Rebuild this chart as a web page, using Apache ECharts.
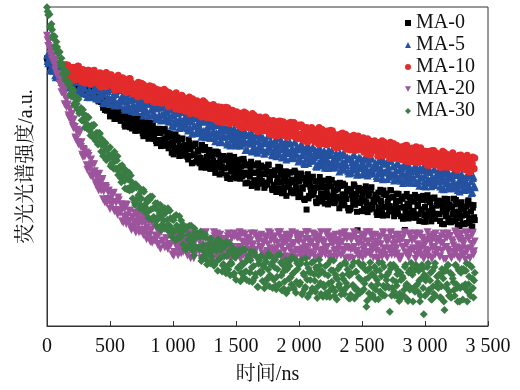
<!DOCTYPE html>
<html><head><meta charset="utf-8">
<script src="https://cdn.jsdelivr.net/npm/echarts@6/dist/echarts.min.js"></script>
<style>html,body{margin:0;padding:0;background:#fff}#c{width:520px;height:390px}</style>
</head><body><div id="c"></div>
<script>
// time channels (ns): two interleaved 10 ns sampling grids (0,10,... and 5,15,...)
const timesA = Array.from({length: 340}, (_, i) => i * 10);
const timesB = Array.from({length: 340}, (_, i) => i * 10 + 5);
const xTicks = [0, 500, 1000, 1500, 2000, 2500, 3000, 3500];
const seriesNames = ['MA-0', 'MA-5', 'MA-10', 'MA-20', 'MA-30'];

// intensity (a.u., 0-1000 scale)
const ma0 = [
839,823,837,821,808,821,806,819,796,800, 789,803,789,794,772,784,787,766,778,767,
778,761,764,750,766,750,766,750,742,751, 743,749,728,746,732,745,723,729,732,714,
731,704,717,702,720,698,677,702,681,695, 657,688,671,692,657,673,649,680,652,659,
652,661,625,668,635,649,623,665,633,655, 612,646,627,658,617,640,604,628,602,639,
624,589,626,605,636,586,608,573,618,583, 605,582,617,565,588,567,605,572,595,543,
575,550,601,553,581,533,554,585,534,565, 543,565,522,573,554,510,564,538,572,521,
548,510,527,568,509,551,496,530,510,552, 493,534,518,492,547,503,537,475,527,500,
533,494,527,464,497,534,484,505,466,514, 498,481,521,463,500,469,524,481,507,449,
505,468,515,446,481,456,503,434,485,468, 503,446,477,440,487,450,505,456,479,426,
443,488,420,465,431,497,450,474,418,464, 408,474,440,481,425,450,416,482,430,459,
454,411,473,430,399,457,365,476,408,436, 410,468,425,453,385,434,454,390,440,409,
456,404,424,381,443,392,458,407,385,426, 405,433,369,439,396,446,378,406,422,370,
425,369,411,385,439,397,358,424,386,427, 360,422,392,438,374,408,365,427,380,396,
387,403,348,418,368,392,354,425,373,411, 347,401,376,425,366,403,352,389,355,414,
392,344,399,373,301,351,384,337,404,357, 391,360,411,343,376,350,405,362,395,327,
373,343,410,350,388,328,358,399,336,377, 351,380,329,391,370,319,386,356,398,338,
372,329,350,399,332,381,318,359,338,388, 320,370,353,323,390,338,380,308,371,341];
const ma0b = [
832,833,813,829,811,814,799,816,797,804, 798,781,795,785,795,774,780,764,780,765,
762,773,751,762,751,768,752,757,739,750, 748,734,749,735,724,739,725,740,719,724,
711,732,709,718,684,702,706,675,691,675, 694,665,674,649,680,652,685,657,643,663,
662,631,664,646,673,629,648,619,658,628, 650,612,638,618,652,622,595,638,610,636,
587,624,604,637,593,618,580,605,578,618, 564,609,585,617,568,591,557,602,566,576,
538,589,560,591,547,565,537,588,546,567, 556,530,584,534,564,512,536,569,515,549,
529,553,497,557,519,561,502,525,538,493, 546,508,540,480,511,545,497,517,479,525,
495,519,473,529,509,461,521,493,530,475, 463,507,491,462,522,476,513,447,503,474,
477,492,439,506,457,480,443,510,461,496, 455,498,433,476,443,506,461,484,431,474,
473,430,450,499,431,480,416,457,435,485, 454,436,482,418,459,425,487,440,468,404,
420,478,435,463,395,444,464,400,450,419, 465,413,433,390,452,401,467,416,394,435,
384,438,412,461,401,438,387,423,389,447, 430,399,449,381,413,387,441,398,430,362,
366,428,399,444,380,414,300,433,386,402, 411,368,430,388,357,416,377,435,368,396,
412,356,398,372,427,384,346,412,373,415, 389,359,426,366,404,344,373,415,351,393,
371,399,336,406,364,414,347,375,392,340, 361,390,339,401,380,329,396,366,408,348,
327,393,360,401,346,370,337,403,352,381, 393,350,388,320,358,399,344,368,326,380,
325,375,358,328,395,343,385,313,376,346, 367,319,374,348,394,326,359,312,379,332];

const ma5 = [
849,824,846,803,818,800,822,780,805,791, 778,806,781,793,754,777,786,751,777,759,
789,751,765,732,778,739,788,750,733,762, 746,766,718,769,737,772,720,741,751,713,
752,710,740,720,759,727,698,747,717,747, 696,742,718,751,703,727,694,740,705,715,
708,719,678,729,690,708,679,731,692,719, 671,710,691,727,683,710,670,697,671,714,
697,661,701,680,713,661,685,649,698,662, 685,662,698,646,670,649,688,656,679,628,
660,636,685,640,667,621,641,671,622,652, 632,652,613,659,641,603,652,628,658,612,
636,604,619,654,603,640,592,622,605,641, 590,626,613,589,638,600,630,576,621,598,
625,593,620,569,596,626,584,601,569,609, 595,582,615,567,597,571,616,581,602,554,
600,571,607,553,580,560,597,543,582,569, 596,551,575,546,583,555,597,559,576,535,
550,583,532,565,539,589,554,572,530,563, 522,571,545,575,533,552,526,575,537,557,
553,521,567,535,512,555,526,568,517,538, 518,561,529,550,499,536,551,503,539,517,
550,512,526,495,541,502,551,513,497,527, 511,532,484,537,505,541,490,511,523,485,
525,483,514,495,535,503,474,524,495,526, 475,521,499,532,485,509,477,524,489,501,
494,505,464,517,478,496,467,519,482,509, 461,500,481,518,474,501,462,489,464,507,
490,455,496,476,510,459,483,449,498,464, 487,465,502,451,476,456,496,465,489,439,
472,449,499,455,483,438,459,490,442,473, 454,474,437,483,467,429,478,456,486,442,
466,434,450,486,436,473,426,456,441,477, 427,463,451,428,478,440,471,417,464,441];
const ma5b = [
831,835,801,833,802,811,786,820,788,804, 794,766,792,776,796,759,774,748,782,756,
751,784,733,765,739,788,753,771,729,761, 760,727,773,740,717,759,729,771,719,740,
719,762,730,750,699,735,750,702,737,715, 748,710,723,691,737,698,746,708,691,720,
719,684,724,703,736,685,709,674,722,687, 714,672,702,683,722,690,660,709,680,710,
659,697,678,713,669,695,656,682,656,698, 644,689,666,698,650,673,640,686,650,661,
625,673,647,676,634,651,624,673,634,654, 643,620,668,624,650,605,626,655,607,636,
620,641,593,644,612,648,597,618,628,590, 636,604,631,579,606,636,595,612,579,619,
593,613,575,621,604,566,614,591,621,576, 566,602,589,566,615,577,606,552,598,575,
577,588,547,599,560,578,549,601,563,590, 558,591,540,573,548,597,562,580,538,571,
570,538,553,589,539,576,528,558,542,578, 555,542,575,527,558,532,578,543,564,516,
527,570,538,559,508,544,559,511,547,525, 558,520,534,502,549,510,559,521,504,534,
496,535,517,553,509,536,497,525,499,542, 528,506,543,492,516,496,536,505,529,478,
480,527,504,538,490,514,483,529,495,506, 511,480,526,495,472,515,487,529,479,500,
512,470,501,482,521,489,460,510,481,511, 491,468,518,474,501,456,477,508,460,490,
474,496,448,501,469,505,455,476,488,450, 465,486,448,495,478,440,490,467,498,453,
437,487,461,492,450,468,443,492,455,475, 484,453,480,430,457,487,447,464,433,473,
431,468,455,433,482,445,475,422,468,446, 460,426,466,447,480,430,454,420,469,435];

const ma10 = [
null,null,null,null,null,null,null,null,null,null, null,null,null,818,787,819,794,779,808,793,
785,811,771,797,777,814,787,800,768,793, 762,799,779,802,770,783,763,801,771,787,
784,757,794,768,750,784,761,795,754,770, 755,788,763,779,738,768,780,741,770,751,
778,747,757,732,768,737,775,744,730,754, 740,756,718,759,732,761,720,737,745,714,
745,712,736,719,750,725,701,740,715,740, 699,735,716,742,704,722,695,732,702,711,
705,715,680,722,690,705,680,723,690,713, 673,705,689,718,681,703,671,693,670,706,
692,662,695,678,706,663,682,653,693,664, 683,664,694,652,672,655,687,660,680,637,
665,645,686,649,671,634,651,676,636,661, 644,661,629,667,653,621,662,642,667,630,
651,624,636,666,623,654,614,639,625,655, 612,642,631,612,652,620,645,600,638,619,
642,615,638,596,618,643,609,623,597,630, 619,608,636,596,621,600,638,608,626,587,
625,600,630,585,609,592,622,577,610,599, 622,584,604,580,611,587,622,590,604,571,
583,610,568,595,573,614,584,599,564,592, 558,599,577,602,567,582,560,601,569,587,
584,557,595,568,549,585,561,596,553,571, 555,590,563,582,539,569,581,541,572,553,
581,549,561,535,573,540,581,550,536,561, 547,565,525,568,541,572,530,547,556,525,
558,523,548,533,565,538,515,556,531,557, 515,553,534,562,522,543,516,554,525,535,
528,538,504,547,516,531,506,550,518,542, 533,503,537,520,548,506,526,498,538,509,
521,501,543,506,529,492,509,535,495,521, 504,521,490,528,514,483,524,505,530,493];
const ma10b = [
null,null,null,null,null,null,null,null,null,null, null,null,null,791,818,790,818,790,810,778,
802,775,805,790,815,776,794,766,804,776, 792,767,802,777,759,792,769,802,763,778,
774,783,749,791,760,773,750,791,760,782, 787,756,767,742,778,747,786,755,741,766,
747,774,733,759,737,776,748,761,727,754, 754,735,764,723,741,726,757,731,750,708,
720,753,728,743,702,731,743,704,732,713, 732,699,722,706,737,711,687,726,701,726,
710,690,731,693,715,678,695,720,679,704, 713,686,709,665,687,712,678,692,664,697,
678,695,655,698,671,701,658,675,684,652, 664,681,649,687,673,641,681,661,686,649,
638,676,656,684,644,664,637,675,645,655, 672,640,652,625,663,630,671,639,625,650,
621,651,640,621,661,629,654,609,647,628, 640,613,625,655,612,643,603,628,614,644,
597,638,616,642,607,622,600,640,609,626, 592,625,609,639,602,625,593,615,593,630,
595,630,603,621,579,609,621,581,611,593, 592,609,577,615,602,570,611,591,616,580,
595,583,611,571,596,574,612,582,600,560, 591,561,594,577,605,562,583,554,595,566,
552,590,570,598,559,579,552,590,560,571, 580,545,571,555,587,560,536,578,553,578,
556,566,532,575,543,558,534,577,545,569, 555,535,576,539,562,525,542,567,528,553,
534,562,520,547,525,567,537,552,518,546, 558,527,539,512,551,518,559,528,514,539,
548,522,545,503,525,550,517,531,505,538, 519,537,497,540,514,544,503,520,529,498,
509,527,495,534,520,488,530,510,536,499, 519,493,505,535,493,524,485,510,496,527];

const ma20 = [
910,878,896,862,834,849,817,831,785,787, 760,783,744,750,695,713,713,661,679,648,
665,621,624,585,615,570,605,561,537,555, 531,544,490,533,494,522,467,480,485,441,
474,425,451,425,461,422,387,433,398,425, 367,413,386,418,364,387,349,394,354,363,
376,343,381,320,347,324,362,301,342,326, 354,303,328,294,334,300,346,302,320,272,
286,325,264,302,271,328,284,305,254,293, 242,301,268,304,253,274,241,300,253,277,
273,232,292,251,222,278,241,296,232,259, 234,291,250,278,212,261,282,220,269,241,
286,235,256,214,277,227,294,244,223,265, 244,273,210,281,239,290,223,252,269,218,
273,218,260,235,290,248,210,277,239,281, 214,277,248,294,231,265,223,286,239,256,
277,239,290,218,256,231,281,210,265,248, 286,227,260,223,273,235,294,244,269,214,
235,281,214,260,227,294,248,273,218,265, 210,277,244,286,231,256,223,290,239,269,
265,223,286,244,214,273,235,294,227,256, 231,290,248,277,210,260,281,218,269,239,
265,223,244,294,227,277,214,256,235,286, 218,269,252,223,290,239,281,210,273,244,
281,239,277,210,248,290,235,260,218,273, 256,239,286,223,265,231,294,248,277,214,
248,265,210,281,231,256,218,290,239,277, 214,269,244,294,235,273,223,260,227,286,
265,218,273,248,294,227,260,214,281,235, 269,239,290,223,256,231,286,244,277,210,
256,227,294,235,273,214,244,286,223,265, 239,269,218,281,260,210,277,248,290,231,
282,212,262,232,296,247,217,272,237,290, 224,267,208,287,242,276,214,257,292,234];
const ma20b = [
896,892,853,873,836,834,802,822,785,791, 775,733,754,725,741,686,694,653,681,640,
627,647,591,610,576,610,569,576,530,550, 542,504,540,502,472,507,472,507,451,465,
439,477,439,454,397,428,439,385,419,390, 398,381,413,360,389,358,403,363,382,328,
324,366,342,380,329,357,313,341,311,355, 293,344,316,353,297,324,285,336,294,307,
330,283,300,261,314,268,324,278,257,292, 294,266,309,246,275,250,297,257,286,224,
220,284,251,290,238,261,228,292,243,271, 275,221,262,238,290,249,212,278,241,282,
244,273,210,281,239,290,223,252,269,218, 256,227,294,235,273,214,244,286,223,265,
239,269,218,281,260,210,277,248,290,231, 281,239,277,210,248,290,235,260,218,273,
218,269,252,223,290,239,281,210,273,244, 248,265,210,281,231,256,218,290,239,277,
265,223,244,294,227,277,214,256,235,286, 265,218,273,248,294,227,260,214,281,235,
235,281,214,260,227,294,248,273,218,265, 265,223,286,244,214,273,235,294,227,256,
231,290,248,277,210,260,281,218,269,239, 256,239,286,223,265,231,294,248,277,214,
214,269,244,294,235,273,223,260,227,286, 214,277,248,294,231,265,223,286,239,256,
286,235,256,214,277,227,294,244,223,265, 269,239,290,223,256,231,286,244,277,210,
210,277,244,286,231,256,223,290,239,269, 244,273,210,281,239,290,223,252,269,218,
239,269,218,281,260,210,277,248,290,231, 273,218,260,235,290,248,210,277,239,281,
218,269,252,223,290,239,281,210,273,244, 256,227,294,235,273,214,244,286,223,265];

const ma30 = [
999,975,977,933,929,902,908,869,875,854, 860,817,822,790,804,771,792,756,759,720,
720,740,691,709,680,711,676,683,644,664, 622,659,632,653,611,621,593,630,592,605,
605,573,603,547,569,545,576,520,554,536, 560,508,529,493,527,492,532,486,500,451,
461,494,431,464,430,481,436,452,400,433, 379,434,401,434,381,400,366,421,373,395,
400,361,406,335,368,340,385,314,363,344, 379,317,347,307,354,313,369,316,338,280,
297,343,269,315,277,344,293,316,256,301, 239,310,270,314,251,276,236,306,248,278,
286,241,296,212,253,222,277,193,253,231, 274,202,240,193,251,204,272,210,238,171,
194,249,165,220,177,259,200,229,160,216, 145,230,185,238,167,197,153,239,172,209,
220,168,234,138,188,153,219,123,195,171, 221,141,185,135,201,150,227,159,192,119,
145,208,115,178,130,223,158,192,117,179, 103,195,148,205,130,164,116,209,139,179,
191,136,208,105,159,122,194,91,169,144, 198,114,162,107,178,124,208,135,171,92,
122,188,92,158,109,205,139,174,95,161, 83,179,131,190,112,147,100,195,123,164,
158,98,188,128,86,170,116,200,104,146, 109,193,133,175,79,151,181,91,163,121,
186,114,144,84,174,102,198,126,96,156, 126,168,45,180,120,192,96,138,162,90,
102,144,156,96,186,126,84,168,114,198, 161,119,107,191,131,173,77,149,179,37,
95,155,185,113,143,83,173,101,197,125, 137,161,89,125,167,77,179,119,191,95,
167,89,149,113,191,131,77,173,119,179, 83,173,131,197,107,155,95,185,119,143];
const ma30b = [
986,976,939,947,910,905,878,891,858,858, 827,839,791,803,773,797,763,766,727,742,
734,697,720,697,715,667,679,645,678,642, 654,621,656,622,597,629,598,630,581,593,
569,606,570,586,533,563,573,523,554,527, 501,538,512,546,494,519,473,497,464,504,
476,455,488,429,459,425,472,427,446,387, 444,395,410,369,420,372,427,379,356,389,
339,396,365,406,342,371,328,385,338,351, 302,366,330,369,311,333,297,361,307,334,
332,298,348,274,306,277,331,284,316,243, 307,244,287,258,314,265,221,292,247,291,
246,278,204,283,233,288,208,240,257,197, 218,251,189,262,235,173,251,214,262,190,
219,181,263,188,233,159,194,244,165,215, 236,181,227,140,188,240,168,200,144,213,
140,206,183,143,231,163,218,122,205,165, 169,191,118,212,144,177,125,220,152,202,
184,126,154,223,130,199,111,169,139,207, 177,114,188,153,216,122,169,104,197,132,
130,196,99,165,116,212,145,181,102,168, 118,202,142,184,88,160,190,100,172,130,
163,103,193,133,91,175,121,205,109,151, 147,123,189,99,159,111,201,135,177,87,
86,164,128,200,116,170,98,152,104,188, 187,115,145,60,175,103,199,127,97,157,
84,174,132,198,108,156,96,186,120,144, 162,120,192,96,144,108,186,126,174,78,
168,90,150,114,192,132,78,174,120,180, 77,173,125,185,107,143,95,191,119,161,
143,101,197,113,167,83,125,185,95,155, 119,161,89,179,149,50,173,131,191,107,
89,161,137,95,191,119,179,77,167,125, 179,119,173,77,131,191,113,149,89,167];

const FONT = "'Liberation Serif','Times New Roman','Noto Serif CJK SC','Noto Sans CJK SC',serif";
const colors = ['#000000', '#2552a0', '#e32b2b', '#9c549c', '#3a7d44'];
const symbols = ['rect', 'triangle', 'circle', 'triangle', 'diamond'];
const symSizes = [6, 8, 7, 8, 8];
const rotates = [0, 0, 0, 180, 0];
const valuesA = [ma0, ma5, ma10, ma20, ma30];
const valuesB = [ma0b, ma5b, ma10b, ma20b, ma30b];
const legendIcons = ['rect', 'triangle', 'circle', 'path://M0,0L10,0L5,9Z', 'diamond'];

const series = seriesNames.map((name, k) => ({
  name, type: 'scatter',
  data: timesA.map((t, i) => [t, valuesA[k][i]])
    .concat(timesB.map((t, i) => [t, valuesB[k][i]]))
    .filter(p => p[1] !== null),
  symbol: symbols[k], symbolSize: symSizes[k], symbolRotate: rotates[k],
  itemStyle: {color: colors[k], opacity: 1},
  emphasis: {disabled: true}, silent: true
}));

const chart = echarts.init(document.getElementById('c'), null, {renderer: 'canvas'});
chart.setOption({
  animation: false,
  backgroundColor: '#fff',
  grid: {left: 47, right: 32, top: 7, bottom: 61, show: true, borderColor: '#333', borderWidth: 1},
  legend: {
    orient: 'vertical', left: 405, top: 13, padding: 0, itemGap: 2,
    itemWidth: 6, itemHeight: 6,
    data: seriesNames.map((n, k) => ({name: n, icon: legendIcons[k]})),
    textStyle: {fontFamily: FONT, fontSize: 20, color: '#111', lineHeight: 20, padding: [0, 0, 0, 0]}
  },
  xAxis: {
    type: 'value', min: 0, max: 3500, interval: 500,
    name: '时间/ns', nameLocation: 'middle', nameGap: 39,
    nameTextStyle: {fontFamily: FONT, fontSize: 20, color: '#111'},
    axisLine: {lineStyle: {color: '#333', width: 1}},
    axisTick: {inside: true, length: 5, lineStyle: {color: '#333'}},
    axisLabel: {fontFamily: FONT, fontSize: 20, color: '#111', margin: 11,
      formatter: v => xTicks.includes(v) ? String(v).replace(/\B(?=(\d{3})+(?!\d))/g, ' ') : ''},
    splitLine: {show: false}
  },
  yAxis: {
    type: 'value', min: 0, max: 1000,
    name: '荧光光谱强度/a.u.', nameLocation: 'middle', nameGap: 10, nameRotate: 90,
    nameTextStyle: {fontFamily: FONT, fontSize: 20, color: '#111'},
    axisLine: {show: true, lineStyle: {color: '#333', width: 1}},
    axisTick: {show: false}, axisLabel: {show: false}, splitLine: {show: false}
  },
  series
});
</script></body></html>
